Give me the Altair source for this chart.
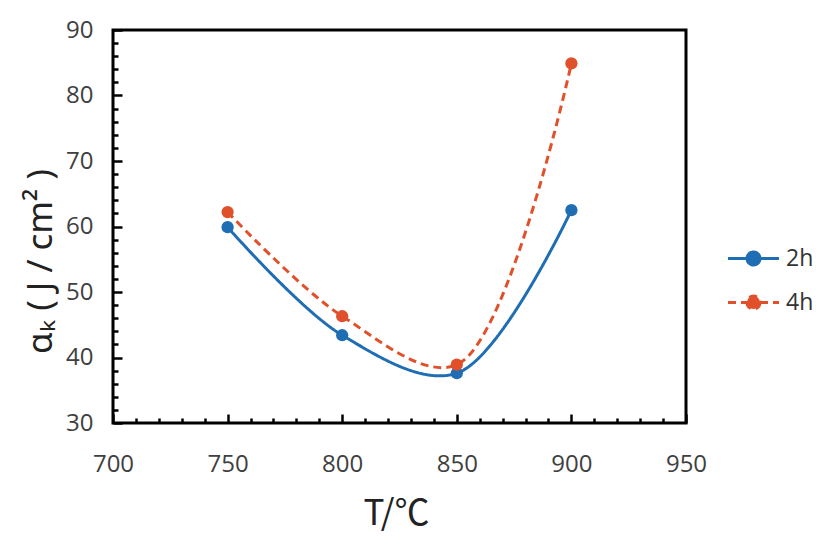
import altair as alt
import pandas as pd

temps = [750, 800, 850, 900]
series_names = ["2h", "4h"]
vals_2h = [59.9, 43.4, 37.6, 62.5]
vals_4h = [62.2, 46.3, 38.9, 84.9]

x_ticks = list(range(700, 951, 10))
y_ticks = list(range(30, 91, 2))

BLUE = "#1F6DB3"
ORANGE = "#E0512B"

rows = []
for t, v in zip(temps, vals_2h):
    rows.append({"T": t, "val": v, "series": "2h"})
for t, v in zip(temps, vals_4h):
    rows.append({"T": t, "val": v, "series": "4h"})
df = pd.DataFrame(rows)

LEG_PATH = ("M-1.275,0L-0.325,0M0.325,0L1.275,0"
            "M0.325,0A0.325,0.325,0,1,1,-0.325,0A0.325,0.325,0,1,1,0.325,0Z")


def legend():
    return alt.Legend(
        title=None, orient="none", legendX=619, legendY=207,
        symbolType=LEG_PATH, symbolSize=1600, symbolStrokeWidth=3,
        labelFont="Open Sans", labelFontSize=23, labelColor="#333333",
        labelOffset=11, rowPadding=10,
    )


x_enc = alt.X(
    "T:Q",
    scale=alt.Scale(domain=[700, 950], nice=False),
    axis=alt.Axis(
        values=x_ticks, tickCount=200, format="d",
        labelExpr="datum.value % 50 === 0 ? datum.label : ''",
        tickSize={"condition": {"test": "datum.value % 50 === 0", "value": -9}, "value": -5},
        tickColor="black", tickWidth=2.5, domain=False, grid=False,
        labelFont="Open Sans", labelFontSize=24, labelColor="#404040",
        labelPadding=38, labelFlush=False, labelOverlap=False,
        title="T/℃", titleFont="Noto Sans CJK SC", titleFontSize=35,
        titleFontWeight="normal", titleColor="#222222",
        titleX=283, titleY=101, titleAlign="center", titleBaseline="alphabetic",
    ),
)
y_enc = alt.Y(
    "val:Q",
    scale=alt.Scale(domain=[30, 90], nice=False),
    axis=alt.Axis(
        values=y_ticks, tickCount=200, format="d",
        labelExpr="datum.value % 10 === 0 ? datum.label : ''",
        tickSize={"condition": {"test": "datum.value % 10 === 0", "value": -9}, "value": -5},
        tickColor="black", tickWidth=2.5, domain=False, grid=False,
        labelFont="Open Sans", labelFontSize=24, labelColor="#404040",
        labelPadding=29, labelFlush=False, labelOverlap=False,
        title="αₖ ( J / cm² )", titleFont="Noto Sans", titleFontSize=35,
        titleFontWeight="normal", titleColor="#222222",
        titleX=-62, titleY=231, titleAlign="center", titleBaseline="alphabetic",
        titleAngle=270,
    ),
)

lines = alt.Chart(df).mark_line(interpolate="catmull-rom", strokeWidth=3).encode(
    x=x_enc,
    y=y_enc,
    color=alt.Color(
        "series:N",
        scale=alt.Scale(domain=series_names, range=[BLUE, ORANGE]),
        legend=legend(),
    ),
    strokeDash=alt.StrokeDash(
        "series:N",
        scale=alt.Scale(domain=series_names, range=[[1, 0], [8, 5]]),
        legend=legend(),
    ),
)

points = alt.Chart(df).mark_circle(size=150, opacity=1).encode(
    x=alt.X("T:Q"),
    y=alt.Y("val:Q"),
    fill=alt.Fill(
        "series:N",
        scale=alt.Scale(domain=series_names, range=[BLUE, ORANGE]),
        legend=legend(),
    ),
)

chart = alt.layer(lines, points).properties(
    width=573,
    height=393,
    background="white",
    autosize=alt.AutoSizeParams(type="none"),
    padding={"left": 105, "top": 22, "right": 133, "bottom": 112},
).configure_view(
    stroke="black", strokeWidth=3
)

chart.save("out.html", embed_options={"renderer": "svg", "actions": False})
